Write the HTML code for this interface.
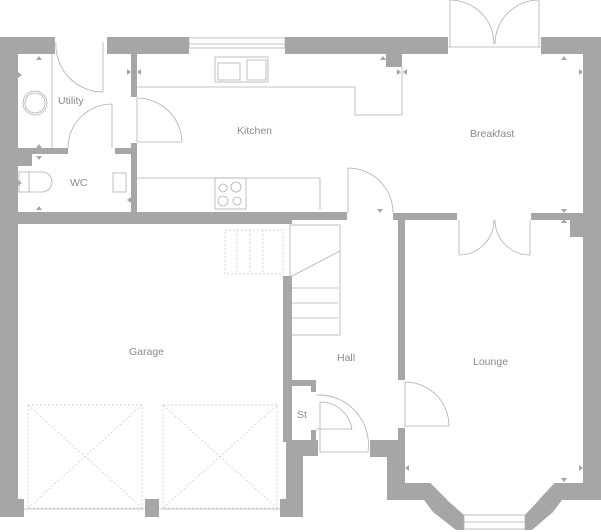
<!DOCTYPE html>
<html><head><style>
html,body{margin:0;padding:0;background:#fff;}
svg{display:block;}
text{font-family:"Liberation Sans",sans-serif;font-size:10.5px;fill:#8a8a8a;}
</style></head><body>
<svg width="601" height="532" viewBox="0 0 601 532" xmlns="http://www.w3.org/2000/svg">
<g fill="#a6a6a6">
<rect x="0" y="37" width="55" height="17"/>
<rect x="107" y="37" width="82" height="17"/>
<rect x="285" y="37" width="163" height="17"/>
<rect x="386" y="54" width="16" height="13"/>
<rect x="541" y="37" width="60" height="17"/>
<rect x="583" y="37" width="18" height="200"/>
<rect x="0" y="37" width="18" height="480"/>
<rect x="0" y="499" width="24" height="18"/>
<rect x="145" y="499" width="14" height="18"/>
<rect x="280" y="499" width="23" height="18"/>
<rect x="286" y="440" width="17" height="77"/>
<rect x="131" y="54" width="6" height="43"/>
<rect x="131" y="143" width="6" height="70"/>
<rect x="18" y="148" width="50" height="6"/>
<rect x="18" y="154" width="14" height="12"/>
<rect x="115" y="148" width="20" height="6"/>
<rect x="18" y="212" width="274" height="12"/>
<rect x="283" y="212" width="64" height="8"/>
<rect x="393" y="213" width="64" height="7"/>
<rect x="531" y="213" width="70" height="7"/>
<rect x="570" y="213" width="31" height="24"/>
<rect x="283" y="276" width="9" height="166"/>
<rect x="398" y="218" width="7" height="162"/>
<rect x="292" y="380" width="24" height="6"/>
<rect x="311" y="386" width="5" height="6"/>
<rect x="311" y="430" width="5" height="10"/>
<rect x="286" y="440" width="32" height="16"/>
<rect x="398" y="428" width="7" height="12"/>
<rect x="370" y="440" width="35" height="17"/>
<rect x="387" y="440" width="18" height="60"/>
<rect x="583" y="220" width="18" height="280"/>
<polygon points="387,483 430,483 447,500 433,512 424,500 387,500"/>
<polygon points="555,483 601,483 601,500 562,500 553,512 539,500"/>
<polygon points="447,500 464,515 464,530 456,530 433,512"/>
<polygon points="539,500 553,512 532,530 525,530 525,515"/>
<!-- markers -->
<polygon points="36,60 42,60 39,56"/>
<polygon points="18,72 18,78 22,75"/>
<polygon points="36,148 42,148 39,144"/>
<polygon points="36,156 42,156 39,160"/>
<polygon points="18,180 18,186 22,183"/>
<polygon points="36,210 42,210 39,206"/>
<polygon points="131,197 131,203 127,200"/>
<polygon points="127,69 127,75 131,72"/>
<polygon points="141,69 141,75 137,72"/>
<polygon points="380,60 386,60 383,56"/>
<polygon points="397,69 397,75 401,72"/>
<polygon points="407,69 407,75 403,72"/>
<polygon points="561,60 567,60 564,56"/>
<polygon points="579,69 579,75 583,72"/>
<polygon points="377,209 383,209 380,213"/>
<polygon points="561,209 567,209 564,213"/>
<polygon points="561,223 567,223 564,219"/>
<polygon points="409,465 409,471 405,468"/>
<polygon points="579,465 579,471 583,468"/>
<polygon points="561,478 567,478 564,482"/>
</g>
<g fill="none" stroke="#b0b0b0" stroke-width="0.8">
<rect x="189" y="38" width="96" height="10"/>
<line x1="189" y1="44" x2="285" y2="44"/>
<line x1="448" y1="47" x2="541" y2="47"/>
<line x1="450" y1="0" x2="450" y2="47"/><line x1="539" y1="0" x2="539" y2="47"/>
<path d="M450 0 A44 44 0 0 1 494 44"/><path d="M539 0 A44 44 0 0 0 495 44"/>
<line x1="103" y1="42" x2="103" y2="92"/>
<path d="M56 42 A47 47 0 0 0 103 92"/>
<line x1="52" y1="54" x2="52" y2="148"/>
<circle cx="35" cy="103" r="12"/><circle cx="35" cy="103" r="10"/>
<line x1="112" y1="104" x2="112" y2="148"/>
<path d="M112 104 A44 44 0 0 0 68 148"/>
<line x1="137" y1="98" x2="137" y2="142"/>
<line x1="137" y1="142" x2="182" y2="142"/>
<path d="M137 98 A45 45 0 0 1 182 142"/>
<polyline points="137,87 355,87 355,115 402,115 402,67"/>
<line x1="137" y1="178" x2="320" y2="178"/>
<line x1="320" y1="178" x2="320" y2="210"/>
<rect x="215" y="57" width="53" height="25"/>
<rect x="218" y="63" width="22" height="17"/><rect x="247" y="60" width="19" height="20"/>
<rect x="215" y="178" width="31" height="31"/>
<circle cx="223" cy="188" r="4"/><circle cx="236" cy="187" r="5"/><circle cx="223" cy="201" r="5"/><circle cx="237" cy="201" r="4"/>
<rect x="19" y="172" width="10" height="20"/>
<path d="M29 172 h13 a10 10 0 0 1 0 20 h-13"/>
<rect x="113" y="173" width="13" height="19"/>
<line x1="348" y1="168" x2="348" y2="213"/>
<path d="M348 168 A45 45 0 0 1 393 213"/>
<line x1="459" y1="220" x2="459" y2="255"/><line x1="530" y1="220" x2="530" y2="255"/>
<path d="M459 255 A35 35 0 0 0 494 220"/><path d="M530 255 A35 35 0 0 1 495 220"/>
<rect x="290" y="225" width="50" height="110"/>
<line x1="292" y1="276" x2="340" y2="251"/>
<line x1="292" y1="288" x2="338" y2="288"/><line x1="292" y1="303" x2="338" y2="303"/>
<line x1="292" y1="318" x2="338" y2="318"/>
<line x1="405" y1="382" x2="405" y2="427"/>
<line x1="405" y1="426" x2="449" y2="426"/>
<path d="M405 382 A44 44 0 0 1 449 426"/>
<path d="M316 395 A50 50 0 0 1 368 452"/>
<line x1="320" y1="402" x2="320" y2="452"/><line x1="320" y1="452" x2="368" y2="452"/>
<path d="M320 402 A32 32 0 0 1 352 430"/>
<line x1="316" y1="429" x2="352" y2="429"/>
<rect x="464" y="515" width="61" height="14"/>
<line x1="464" y1="522" x2="525" y2="522"/>
<line x1="430" y1="483" x2="447" y2="500"/><line x1="555" y1="483" x2="539" y2="500"/>
</g>
<g fill="none" stroke="#c8c8c8" stroke-width="0.7" stroke-dasharray="2,2">
<rect x="225" y="230" width="58" height="44"/>
<line x1="237" y1="230" x2="237" y2="274"/><line x1="250" y1="230" x2="250" y2="274"/><line x1="263" y1="230" x2="263" y2="274"/>
<rect x="28" y="405" width="114" height="103"/>
<line x1="28" y1="405" x2="142" y2="508"/><line x1="142" y1="405" x2="28" y2="508"/>
<rect x="163" y="405" width="114" height="103"/>
<line x1="163" y1="405" x2="277" y2="508"/><line x1="277" y1="405" x2="163" y2="508"/>
</g>
<g stroke="#b0b0b0" stroke-width="0.8">
<line x1="24" y1="509" x2="145" y2="509"/><line x1="159" y1="509" x2="280" y2="509"/>
</g>
<text x="58" y="104">Utility</text>
<text x="70" y="186">WC</text>
<text x="237" y="134">Kitchen</text>
<text x="470" y="137">Breakfast</text>
<text x="129" y="355">Garage</text>
<text x="337" y="361">Hall</text>
<text x="473" y="365">Lounge</text>
<text x="297" y="418">St</text>
</svg>
</body></html>
